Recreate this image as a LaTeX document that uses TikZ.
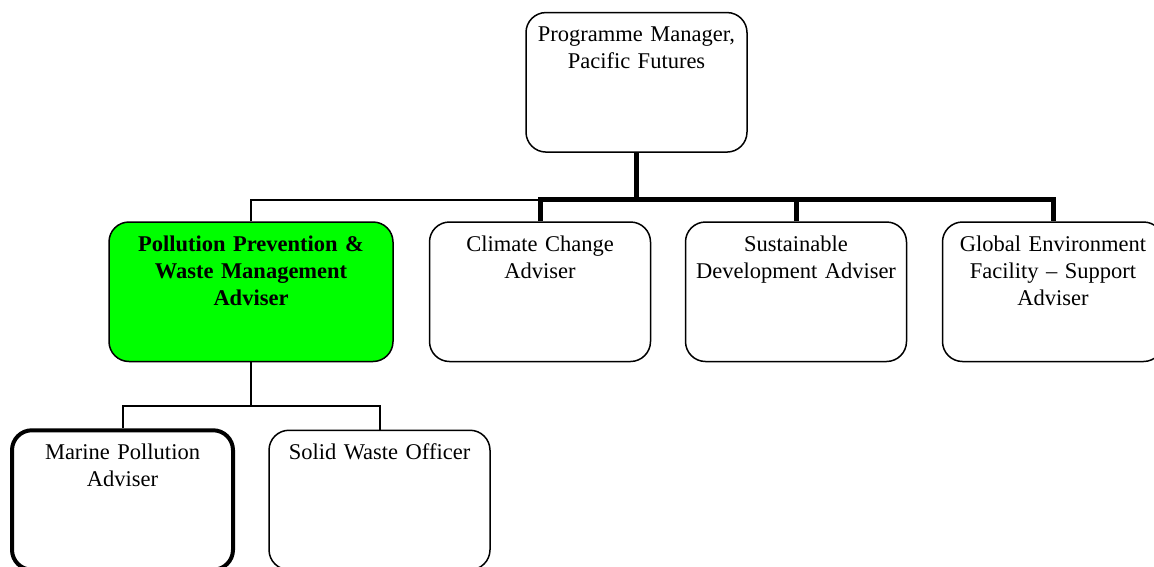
\documentclass[tikz,border=0pt]{standalone}
\usepackage{fontspec}
\setmainfont{Liberation Serif}
\definecolor{advgreen}{RGB}{0,255,0}

\begin{document}
\begin{tikzpicture}[
  x=1pt, y=-1pt,
  obox/.style={draw, line width=1.5pt, rounded corners=20pt, inner sep=0pt,
    align=center, text width=221pt, text height=29pt, text depth=110.5pt,
    font=\fontsize{22.5}{27}\selectfont},
  gbox/.style={obox, fill=advgreen, text width=284pt, font=\fontsize{22.5}{27}\selectfont\bfseries},
  mbox/.style={obox, line width=4pt},
  thinln/.style={line width=2pt},
  thickln/.style={line width=5pt},
]
\useasboundingbox (0,0) rectangle (1154,566);

\node [obox] (pm) at (636.5,82.3) {Programme Manager,\\Pacific Futures};

\node [gbox] (ppwm) at (251,291.75) {Pollution Prevention \&\\Waste Management\\Adviser};
\node [obox] (cca) at (540,291.75) {Climate Change\\Adviser};
\node [obox] (sda) at (796,291.75) {Sustainable\\Development Adviser};
\node [obox] (gef) at (1053,291.75) {Global Environment\\Facility – Support\\Adviser};

\node [mbox] (mpa) at (122.5,500) {Marine Pollution\\Adviser};
\node [obox] (swo) at (379.5,500) {Solid Waste Officer};

\coordinate (topbus) at (0,199.5);
\coordinate (lowbus) at (0,405.5);

\draw [thickln] (pm.south) -- (pm.south |- topbus);
\draw [thinln] (ppwm.north) -- (ppwm.north |- topbus) -- (cca.north |- topbus);
\draw [thickln] (cca.north) -- (cca.north |- topbus) -- (gef.north |- topbus) -- (gef.north);
\draw [thickln] (sda.north) -- (sda.north |- topbus);

\draw [thinln] (ppwm.south) -- (ppwm.south |- lowbus);
\draw [thinln] (mpa.north) -- (mpa.north |- lowbus) -- (swo.north |- lowbus) -- (swo.north);

\end{tikzpicture}
\end{document}
